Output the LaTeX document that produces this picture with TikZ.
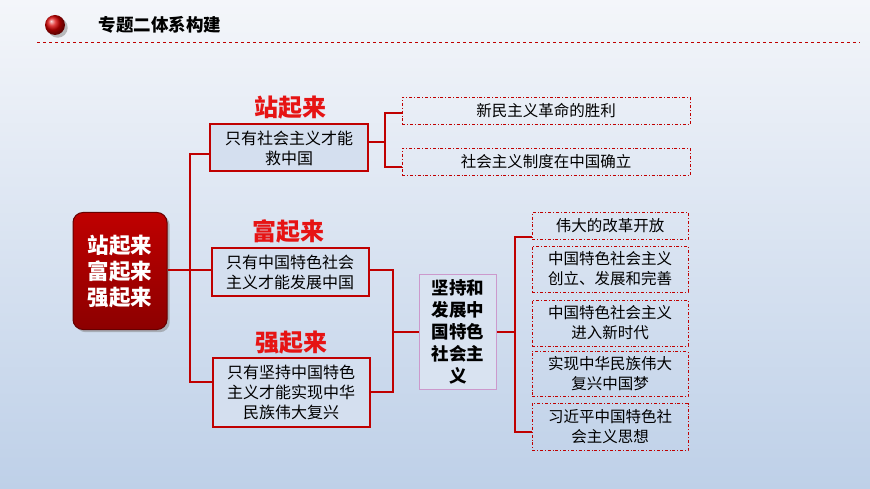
\documentclass[tikz,border=0pt]{standalone}
\usepackage{fontspec}
\setmainfont{Noto Sans CJK SC}
\usetikzlibrary{shadows}
\definecolor{dred}{RGB}{192,0,0}
\definecolor{bred}{RGB}{230,20,20}
\definecolor{bgtop}{RGB}{244,246,250}
\definecolor{bgbot}{RGB}{190,208,232}
\begin{document}
\begin{tikzpicture}[x=1pt,y=-1pt,
  line/.style={draw=dred,line width=2.8pt},
  solidbox/.style={draw=dred,line width=2pt,fill=bgtop!40!bgbot,inner sep=0pt,align=center,font=\fontsize{16}{20}\selectfont},
  dbox/.style={draw=dred,line width=0.8pt,dash dot,fill=none,inner sep=0pt,align=center,font=\fontsize{15.5}{20}\selectfont},
  lab/.style={text=bred,font=\fontsize{24}{26}\selectfont\bfseries},
]
\shade[top color=bgtop,bottom color=bgbot] (0,0) rectangle (870,489);
\useasboundingbox (0,0) rectangle (870,489);
\shade[ball color=red!85!black,drop shadow] (55,25) circle (10);
\node[anchor=west,font=\fontsize{17.5}{20}\selectfont\bfseries] (title) at (95,25) {专题二体系构建};
\draw[dred,dashed,line width=0.8pt] (37,42) -- (860,42);
% left box
\node[rounded corners=10pt,minimum width=94pt,minimum height=117pt,top color=red!75!black,bottom color=red!55!black,draw=red!40!black,line width=1pt,drop shadow,text=white,align=center,font=\fontsize{21.5}{26}\selectfont\bfseries] (L) at (120,271) {站起来\\富起来\\强起来};
% boxes
\node[solidbox,minimum width=158pt,minimum height=47pt] (b1) at (289,148) {只有社会主义才能\\救中国};
\node[solidbox,minimum width=157pt,minimum height=48pt] (b2) at (290,272) {只有中国特色社会\\主义才能发展中国};
\node[solidbox,minimum width=157pt,minimum height=69pt] (b3) at (291,392) {只有坚持中国特色\\主义才能实现中华\\民族伟大复兴};
\node[lab] at (290,108) {站起来};
\node[lab] at (288,231) {富起来};
\node[lab] at (291,343) {强起来};
\node[draw=violet!40,line width=0.8pt,fill=bgtop!50!bgbot,minimum width=77pt,minimum height=115pt,inner sep=0pt,align=center,font=\fontsize{17.5}{22}\selectfont\bfseries] (m) at (458,332) {坚持和\\发展中\\国特色\\社会主\\义};
\node[dbox,minimum width=288pt,minimum height=27pt] (t1) at (546,111) {新民主义革命的胜利};
\node[dbox,minimum width=288pt,minimum height=27pt] (t2) at (546,162) {社会主义制度在中国确立};
\node[dbox,minimum width=156pt,minimum height=27pt] (r1) at (610,226) {伟大的改革开放};
\node[dbox,minimum width=156pt,minimum height=46pt] (r2) at (610,269) {中国特色社会主义\\创立、发展和完善};
\node[dbox,minimum width=156pt,minimum height=46pt] (r3) at (610,323) {中国特色社会主义\\进入新时代};
\node[dbox,minimum width=156pt,minimum height=45pt] (r4) at (610,374) {实现中华民族伟大\\复兴中国梦};
\node[dbox,minimum width=156pt,minimum height=47pt] (r5) at (610,427) {习近平中国特色社\\会主义思想};
% connectors
\coordinate (s) at (190,270);
\draw[line] (L.east|-s) -- (s);
\draw[line] (b1.west) ++(0,6) -| (190,382) -- (b3.west|-{(0,382)});
\draw[line] (s) -- (b2.west|-s);
\draw[line] (b1.east|-{(0,142)}) -- (385,142);
\draw[line] (t1.west|-{(0,113)}) -| (385,167) -- (t2.west|-{(0,167)});
\draw[line] (b2.east|-{(0,270)}) -| (393,392) -- (b3.east|-{(0,392)});
\draw[line] (393,332) -- (m.west);
\draw[line] (m.east) -- (515,332);
\draw[line] (r1.west|-{(0,237)}) -| (515,432) -- (r5.west|-{(0,432)});
\end{tikzpicture}
\end{document}
